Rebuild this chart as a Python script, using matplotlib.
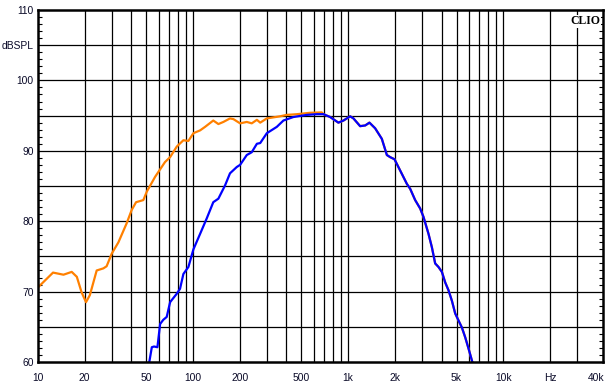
import numpy as np
import matplotlib
matplotlib.use("Agg")
import matplotlib.pyplot as plt
from matplotlib.ticker import MultipleLocator, NullFormatter, FixedLocator

# orange curve, low-frequency part (Hz, dBSPL)
orange_freq = [10, 12.5, 14.6, 16.5, 17.8, 19.1, 20.4, 21.6, 23.9, 26.4, 27.7,
               29.9, 33.0, 37.3, 40.2, 42.9, 47.8, 50.3, 56.9, 65.9, 71.1, 78.5,
               86.6, 93.3, 100.5, 111, 119.5, 135, 145.6, 156.9, 173, 182, 201,
               222, 239, 258, 271, 299, 364, 402, 467, 569, 676]
orange_db = [70.6, 72.7, 72.4, 72.8, 72.1, 69.9, 68.5, 69.5, 73.0, 73.3, 73.6,
             75.4, 77.0, 79.7, 81.6, 82.7, 83.0, 84.2, 86.3, 88.4, 89.1, 90.6,
             91.5, 91.4, 92.5, 92.9, 93.4, 94.3, 93.8, 94.1, 94.6, 94.5, 93.9,
             94.1, 93.9, 94.4, 94.0, 94.6, 94.9, 95.1, 95.2, 95.4, 95.45]

# blue curve (Hz, dBSPL)
blue_freq = [52.2, 54.2, 56.0, 58.9, 61.3, 64.3, 67.6, 71.1, 78.5, 82.4, 86.6,
             93.3, 100.5, 111, 122.5, 135, 145.6, 160.9, 173, 191.4, 201, 222,
             239, 258, 271, 299, 346.7, 382.4, 443.8, 541, 628, 693, 765, 865,
             933, 1030, 1082, 1195, 1288, 1372, 1493, 1649, 1777, 1866, 1990,
             2165, 2392, 2512, 2705, 2914, 3062, 3298, 3467, 3641, 3824, 4022,
             4226, 4436, 4667, 4901, 5148, 5413, 5689, 5976, 6285, 6400]
blue_db = [60.0, 62.1, 62.2, 62.1, 65.4, 66.0, 66.4, 68.5, 69.7, 70.4, 72.5,
           73.5, 76.0, 78.2, 80.4, 82.7, 83.2, 85.1, 86.8, 87.7, 88.0, 89.4,
           89.8, 91.0, 91.1, 92.5, 93.4, 94.3, 94.8, 95.1, 95.2, 95.2, 94.8,
           94.0, 94.3, 94.9, 94.6, 93.5, 93.6, 94.0, 93.2, 91.7, 89.4, 89.1,
           88.8, 87.2, 85.3, 84.6, 83.0, 81.8, 80.6, 78.2, 76.3, 74.0, 73.5,
           72.8, 71.3, 70.2, 68.7, 66.9, 65.9, 64.9, 63.5, 61.9, 60.2, 59.5]

x_ticks = [10, 20, 50, 100, 200, 500, 1000, 2000, 5000, 10000, 20000, 40000]
x_labels = ['10', '20', '50', '100', '200', '500', '1k', '2k', '5k', '10k', 'Hz', '40k']
y_ticks = [60, 65, 70, 75, 80, 85, 90, 95, 100, 105, 110]
y_labels = ['60', '', '70', '', '80', '', '90', '', '100', 'dBSPL', '110']

# orange follows the blue one above ~700 Hz
k = blue_freq.index(693)
orange_freq = orange_freq + blue_freq[k:]
orange_db = orange_db + blue_db[k:]

txt_color = '#0a0a28'
plt.rcParams['font.family'] = ['Liberation Sans', 'DejaVu Sans']

fig = plt.figure(figsize=(6.11, 3.88), dpi=100)
ax = fig.add_axes([38 / 611, 26 / 388, 565 / 611, 352 / 388])

ax.plot(orange_freq, orange_db, color='#ff8000', lw=1.6, zorder=3)
ax.plot(blue_freq, blue_db, color='#0000ff', lw=1.6, zorder=4)

ax.set_xscale('log')
ax.set_xlim(10, 44000)
ax.set_ylim(60, 110)

# vertical grid at 1-9 x each decade
vgrid = [m * 10 ** d for d in range(1, 5) for m in range(1, 10) if m * 10 ** d < 40000]
for v in vgrid[1:]:
    ax.axvline(v, color='black', lw=0.9, zorder=1)
for h in y_ticks[1:-1]:
    ax.axhline(h, color='black', lw=0.9, zorder=1)

ax.xaxis.set_major_locator(FixedLocator(x_ticks))
ax.xaxis.set_minor_locator(FixedLocator([]))
ax.set_xticklabels(x_labels)
ax.xaxis.set_minor_formatter(NullFormatter())
ax.set_yticks(y_ticks)
ax.set_yticklabels(y_labels)
ax.yaxis.set_minor_locator(MultipleLocator(1))

ax.tick_params(axis='x', which='both', length=0, pad=8, labelsize=7.4, labelcolor=txt_color)
ax.tick_params(axis='y', which='major', length=0, pad=3, labelsize=7.4, labelcolor=txt_color)
ax.tick_params(axis='y', which='minor', direction='in', length=3, width=0.8,
               left=True, right=True)

for s in ax.spines.values():
    s.set_linewidth(1.8)
    s.set_color('black')
    s.set_zorder(5)

ax.text(0.995, 0.985, 'CLIO', transform=ax.transAxes, ha='right', va='top',
        fontsize=8.5, fontweight='bold', family='Liberation Serif', color='black',
        bbox=dict(facecolor='white', edgecolor='none', pad=0.5), zorder=6)

fig.savefig('out.png', dpi=100)
